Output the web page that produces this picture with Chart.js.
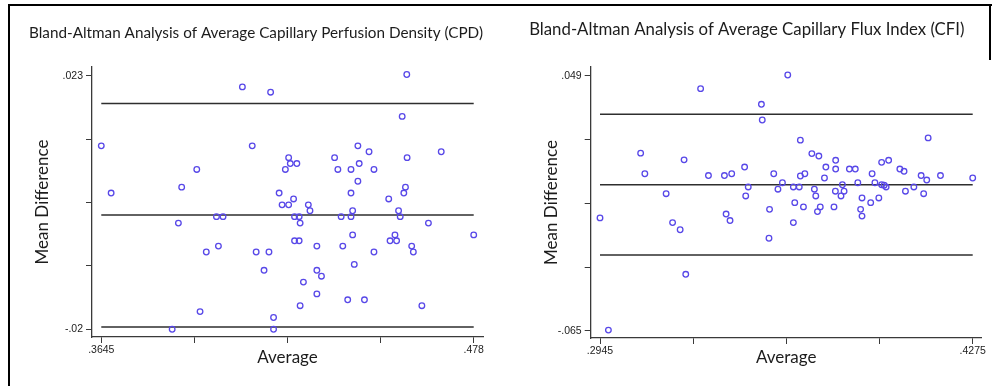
<!DOCTYPE html>
<html>
<head>
<meta charset="utf-8">
<script src="https://cdn.jsdelivr.net/npm/chart.js@4.4.1/dist/chart.umd.min.js"></script>
<style>
  body { margin: 0; background: #fff; }
  #wrap { position: relative; width: 992px; height: 386px; overflow: hidden; background: #fff; }
  #frame { position: absolute; left: 8px; top: 4px; width: 1000px; height: 400px;
           border-top: 2.5px solid #000; border-left: 2.5px solid #000; }
  #edge { position: absolute; left: 989px; top: 4px; width: 2px; height: 56px; background: #000; }
  canvas { position: absolute; top: 0; }
  #cpd { left: 0; }
  #cfi { left: 496px; }
</style>
</head>
<body>
<div id="wrap">
  <div id="frame"></div>
  <div id="edge"></div>
  <canvas id="cpd" width="496" height="386"></canvas>
  <canvas id="cfi" width="496" height="386"></canvas>
</div>
<script>
// CPD - average vs difference
const cpdAvg = [
  .4075, .4161, .3645, .4105, .3936, .3890, .3675, .4187, .3996, .4016,
  .4576, .4562, .4427, .4461, .4681, .4216, .4356, .4577, .4221, .4241,
  .4431, .4206, .4366, .4406, .4476, .4427, .4572, .4406, .4567, .4231,
  .4521, .4196, .4216, .4276, .4281, .4411, .4551, .4234, .4248, .4376,
  .4406, .4556, .4251, .4642, .4411, .4540, .4780, .4234, .4248, .4525,
  .4545, .4302, .4381, .4591, .4156, .4476, .4596, .4141, .4302, .4416,
  .4316, .4261, .4302, .4396, .4447, .4251, .4622, .4170, .4170, .3880,
  .4002, .3965, .4117, .3946, .3861
];
const cpdDiff = [
  .0211, .0202, .0111, .0111, .0071, .0041, .0031, .0031, -.0009, -.0009,
  .0232, .0161, .0111, .0101, .0101, .0091, .0091, .0091, .0081, .0081,
  .0081, .0071, .0071, .0071, .0071, .0051, .0041, .0031, .0031, .0021,
  .0021, .0011, .0011, .0011, .0001, .0001, .0001, -.0009, -.0009, -.0009,
  -.0009, -.0009, -.0020, -.0020, -.0040, -.0040, -.0040, -.0050, -.0050, -.0050,
  -.0050, -.0059, -.0059, -.0059, -.0069, -.0069, -.0069, -.0100, -.0100, -.0090,
  -.0110, -.0120, -.0140, -.0150, -.0150, -.0160, -.0160, -.0180, -.0200, -.0020,
  -.0059, -.0069, -.0069, -.0170, -.0200
];
const cpdLines = [.0183, -.00064, -.0196]; // upper LoA, mean, lower LoA
const cpdXTicks = [.3645, .392875, .42125, .449625, .478];
const cpdXLabels = ['.3645', '', '', '', '.478'];
const cpdYTicks = [-.02, -.00925, .0015, .01225, .023];
const cpdYLabels = ['-.02', '', '', '', '.023'];

// CFI - average vs difference
const cfiAvg = [
  .3304, .3521, .3524, .3090, .3245, .3105, .3461, .3332, .3389, .3415,
  .3474, .3181, .3465, .3550, .2945, .3395, .3409, .3204, .3231, .3548,
  .3251, .2975, .3615, .3660, .4116, .3701, .3726, .3786, .3751, .3786,
  .3835, .3856, .3950, .3975, .4015, .4030, .3565, .3660, .3676, .3916,
  .4091, .4160, .4111, .4275, .3746, .3596, .3865, .3926, .3950, .3959,
  .3810, .3580, .3635, .3656, .3710, .3966, .4065, .3785, .3816, .4035,
  .3715, .3805, .3880, .3940, .4100, .3640, .3911, .3671, .3731, .3780,
  .3721, .3875, .3880, .3635
];
const cfiDiff = [
  .0432, .0362, .0292, .0144, .0114, .0052, .0082, .0044, .0044, .0052,
  -.0007, -.0037, -.0047, -.0107, -.0145, -.0128, -.0157, -.0166, -.0198, -.0236,
  -.0397, -.0646, .0493, .0202, .0212, .0142, .0131, .0112, .0082, .0073,
  .0073, .0073, .0103, .0112, .0073, .0063, .0052, .0042, .0052, .0052,
  .0044, .0044, .0024, .0033, .0033, .0012, .0012, .0012, .0003, .0001,
  .0003, -.0017, -.0007, -.0007, -.0017, -.0007, -.0007, -.0026, -.0026, -.0026,
  -.0047, -.0047, -.0056, -.0056, -.0037, -.0077, -.0077, -.0096, -.0096, -.0096,
  -.0117, -.0107, -.0137, -.0166
];
const cfiLines = [.0318, .0003, -.0311];
const cfiXTicks = [.2945, .32775, .361, .39425, .4275];
const cfiXLabels = ['.2945', '', '', '', '.4275'];
const cfiYTicks = [-.065, -.0365, -.008, .0205, .049];
const cfiYLabels = ['-.065', '', '', '', '.049'];

const ptColor = 'rgb(88,72,232)';
const lineColor = '#2e2e2e';
const axisColor = '#3a3a3a';
const textColor = '#1c1c1c';

const baChart = (id, o) => {
  const pts = o.avg.map((x, i) => ({ x: x, y: o.diff[i] }));
  const refLines = o.lines.map(v => ({
    data: [{ x: o.xTicks[0], y: v }, { x: o.xTicks[o.xTicks.length - 1], y: v }],
    showLine: true,
    borderColor: lineColor,
    borderWidth: 1.5,
    pointRadius: 0
  }));

  return new Chart(document.getElementById(id), {
    type: 'scatter',
    data: {
      datasets: [
        {
          data: pts,
          pointStyle: 'circle',
          pointRadius: 2.8,
          borderWidth: 1.3,
          borderColor: ptColor,
          backgroundColor: 'rgba(255,255,255,0)'
        },
        ...refLines
      ]
    },
    options: {
      responsive: false,
      animation: false,
      layout: { padding: { left: o.padL, right: o.padR, top: 0, bottom: 0 } },
      plugins: {
        legend: { display: false },
        tooltip: { enabled: false },
        title: {
          display: true,
          text: o.title,
          color: textColor,
          font: { family: 'Lato', size: o.titleSize, weight: 'normal' },
          padding: { top: o.titleTop, bottom: o.titleBottom }
        }
      },
      scales: {
        x: {
          type: 'linear',
          min: o.xMin,
          max: o.xMax,
          afterBuildTicks: (s) => { s.ticks = o.xTicks.map(value => ({ value })); },
          afterFit: (s) => { s.height = o.xHeight; s.paddingLeft = 0; s.paddingRight = 0; },
          ticks: {
            autoSkip: false,
            maxRotation: 0,
            padding: 1,
            color: textColor,
            font: { family: 'Liberation Sans', size: 10.5 },
            callback: (v, i) => o.xLabels[i]
          },
          grid: { drawOnChartArea: false, drawTicks: true, tickLength: 6, color: axisColor, lineWidth: 1 },
          border: { display: true, color: axisColor, width: 1.3 },
          title: {
            display: true,
            text: 'Average',
            color: textColor,
            font: { family: 'Lato', size: 17 },
            padding: { top: 0, bottom: 18 }
          }
        },
        y: {
          type: 'linear',
          min: o.yMin,
          max: o.yMax,
          afterBuildTicks: (s) => { s.ticks = o.yTicks.map(value => ({ value })); },
          afterFit: (s) => { s.width = o.yWidth; s.paddingTop = 0; s.paddingBottom = 0; },
          ticks: {
            autoSkip: false,
            padding: 3,
            color: textColor,
            font: { family: 'Liberation Sans', size: 10.5 },
            callback: (v, i) => o.yLabels[i]
          },
          grid: { drawOnChartArea: false, drawTicks: true, tickLength: 6, color: axisColor, lineWidth: 1 },
          border: { display: true, color: axisColor, width: 1.3 },
          title: {
            display: true,
            text: 'Mean Difference',
            color: textColor,
            font: { family: 'Lato', size: 17 },
            padding: { top: o.yTitlePad, bottom: 0 }
          }
        }
      }
    }
  });
};

baChart('cpd', {
  title: 'Bland-Altman Analysis of Average Capillary Perfusion Density (CPD)',
  titleSize: 15.3, titleTop: 24.3, titleBottom: 24.3,
  avg: cpdAvg, diff: cpdDiff, lines: cpdLines,
  xTicks: cpdXTicks, xLabels: cpdXLabels, yTicks: cpdYTicks, yLabels: cpdYLabels,
  xMin: .36167, xMax: .48083, yMin: -.02131, yMax: .02448,
  padL: 29, padR: 13, yWidth: 63, xHeight: 49, yTitlePad: 3.8
});

baChart('cfi', {
  title: 'Bland-Altman Analysis of Average Capillary Flux Index (CFI)',
  titleSize: 16.8, titleTop: 19.9, titleBottom: 26.9,
  avg: cfiAvg, diff: cfiDiff, lines: cfiLines,
  xTicks: cfiXTicks, xLabels: cfiXLabels, yTicks: cfiYTicks, yLabels: cfiYLabels,
  xMin: .29118, xMax: .43071, yMin: -.06813, yMax: .05288,
  padL: 15.9, padR: 10.3, yWidth: 78.8, xHeight: 48, yTitlePad: 29.4
});
</script>
</body>
</html>
